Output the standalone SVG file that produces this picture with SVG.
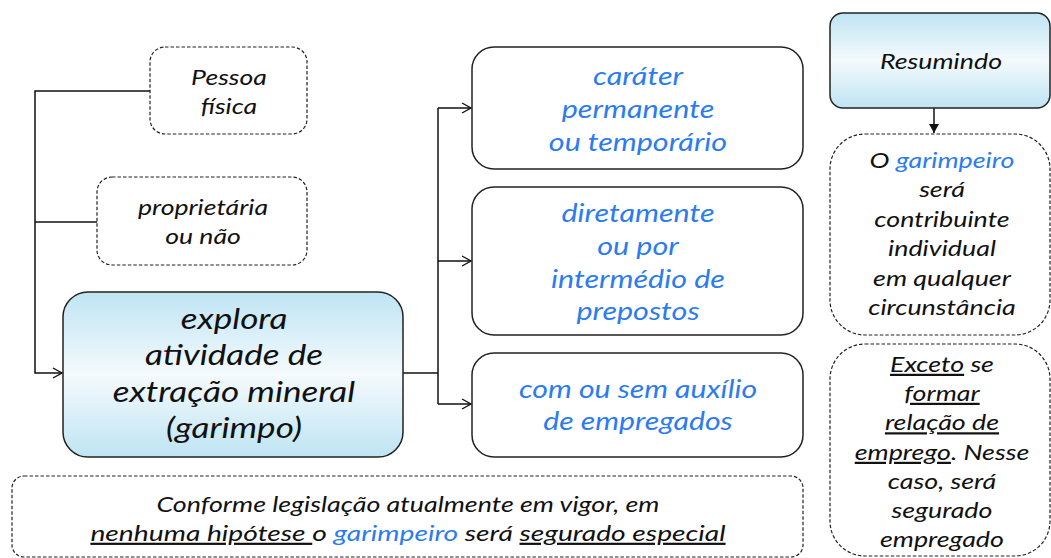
<svg xmlns="http://www.w3.org/2000/svg" width="1051" height="558" viewBox="0 0 1051 558">
<defs>
<linearGradient id="blueGrad" x1="0" y1="0" x2="0" y2="1">
<stop offset="0" stop-color="#bfe4f3"/>
<stop offset="0.5" stop-color="#f4fafd"/>
<stop offset="1" stop-color="#bfe4f3"/>
</linearGradient>
<marker id="vArrow" markerWidth="12" markerHeight="12" refX="10" refY="6" orient="auto" markerUnits="userSpaceOnUse">
<path d="M1,1 L10,6 L1,11" fill="none" stroke="#111" stroke-width="1.4"/>
</marker>
<marker id="tri" markerWidth="10" markerHeight="10" refX="9" refY="5" orient="auto" markerUnits="userSpaceOnUse">
<path d="M0,0 L9,5 L0,10 Z" fill="#111"/>
</marker>
</defs>
<style>
.t{font-family:"Lato","Open Sans",sans-serif;font-style:italic;fill:#111;text-anchor:middle}
.b{fill:#2b7cf0}
.u{text-decoration:underline}
.solid{fill:#fff;stroke:#222;stroke-width:1.5}
.grad{fill:url(#blueGrad);stroke:#222;stroke-width:1.5}
.dash{fill:#fff;stroke:#222;stroke-width:1.2;stroke-dasharray:3.5 2}
.conn{fill:none;stroke:#111;stroke-width:1.5}
</style>

<g id="connectors">
<path class="conn" d="M150,91 H35 V373 H62" marker-end="url(#vArrow)"/>
<path class="conn" d="M97,222 H35"/>
<path class="conn" d="M403,373 H438"/>
<path class="conn" d="M438,108 V404"/>
<path class="conn" d="M438,108 H471" marker-end="url(#vArrow)"/>
<path class="conn" d="M438,261 H471" marker-end="url(#vArrow)"/>
<path class="conn" d="M438,404 H471" marker-end="url(#vArrow)"/>
<path class="conn" d="M934,108 V133" marker-end="url(#tri)"/>
</g>

<g id="node-pessoa">
<rect class="dash" x="150" y="47" width="157" height="87" rx="15"/>
<text class="t" font-size="22" x="229" transform="matrix(1.21 0 0 1 -48.09 0)"><tspan x="229" y="85">Pessoa</tspan><tspan x="229" y="114">física</tspan></text>
</g>

<g id="node-proprietaria">
<rect class="dash" x="97" y="177" width="210" height="88" rx="15"/>
<text class="t" font-size="22" x="203" transform="matrix(1.21 0 0 1 -42.63 0)"><tspan x="203" y="215">proprietária</tspan><tspan x="203" y="244">ou não</tspan></text>
</g>

<g id="node-explora">
<rect class="grad" x="63" y="292" width="340" height="165" rx="25"/>
<text class="t" font-size="29" x="234" transform="matrix(1.21 0 0 1 -49.14 0)"><tspan x="234" y="329">explora</tspan><tspan x="234" y="365">atividade de</tspan><tspan x="234" y="402">extração mineral</tspan><tspan x="234" y="438">(garimpo)</tspan></text>
</g>

<g id="node-carater">
<rect class="solid" x="472" y="47" width="331" height="122" rx="22"/>
<text class="t b" font-size="25" x="638" transform="matrix(1.22 0 0 1 -140.36 0)"><tspan x="638" y="85">caráter</tspan><tspan x="638" y="118">permanente</tspan><tspan x="638" y="151">ou temporário</tspan></text>
</g>

<g id="node-diretamente">
<rect class="solid" x="472" y="187" width="331" height="148" rx="22"/>
<text class="t b" font-size="25" x="638" transform="matrix(1.22 0 0 1 -140.36 0)"><tspan x="638" y="222">diretamente</tspan><tspan x="638" y="255">ou por</tspan><tspan x="638" y="288">intermédio de</tspan><tspan x="638" y="320">prepostos</tspan></text>
</g>

<g id="node-auxilio">
<rect class="solid" x="472" y="353" width="331" height="104" rx="22"/>
<text class="t b" font-size="25" x="638" transform="matrix(1.21 0 0 1 -133.98 0)"><tspan x="638" y="398">com ou sem auxílio</tspan><tspan x="638" y="430">de empregados</tspan></text>
</g>

<g id="node-resumindo">
<rect class="grad" x="830" y="13" width="220" height="95" rx="13"/>
<text class="t" font-size="22" x="941" y="69" transform="matrix(1.22 0 0 1 -207.02 0)">Resumindo</text>
</g>

<g id="node-contribuinte">
<rect class="dash" x="830" y="134" width="220" height="201" rx="35"/>
<text class="t" font-size="22" x="942" transform="matrix(1.22 0 0 1 -207.24 0)"><tspan x="942" y="168">O <tspan class="b">garimpeiro</tspan></tspan><tspan x="942" y="197.5">será</tspan><tspan x="942" y="227">contribuinte</tspan><tspan x="942" y="256.5">individual</tspan><tspan x="942" y="286">em qualquer</tspan><tspan x="942" y="315.5">circunstância</tspan></text>
</g>

<g id="node-exceto">
<rect class="dash" x="830" y="344" width="220" height="212" rx="35"/>
<text class="t" font-size="22" x="942" transform="matrix(1.22 0 0 1 -207.24 0)"><tspan x="942" y="372"><tspan class="u">Exceto</tspan> se</tspan><tspan x="942" y="401" class="u">formar</tspan><tspan x="942" y="430.5" class="u">relação de</tspan><tspan x="942" y="460"><tspan class="u">emprego</tspan>. Nesse</tspan><tspan x="942" y="489.5">caso, será</tspan><tspan x="942" y="518.5">segurado</tspan><tspan x="942" y="547">empregado</tspan></text>
</g>

<g id="node-conforme">
<rect class="dash" x="12" y="476" width="791" height="81" rx="12"/>
<text class="t" font-size="22" x="408" y="512" transform="matrix(1.22 0 0 1 -89.76 0)">Conforme legislação atualmente em vigor, em</text>
<text class="t" font-size="22" x="408" y="541" transform="matrix(1.283 0 0 1 -115.46 0)"><tspan class="u">nenhuma hipótese </tspan>o <tspan class="b">garimpeiro</tspan> será <tspan class="u">segurado especial</tspan></text>
</g>
</svg>
